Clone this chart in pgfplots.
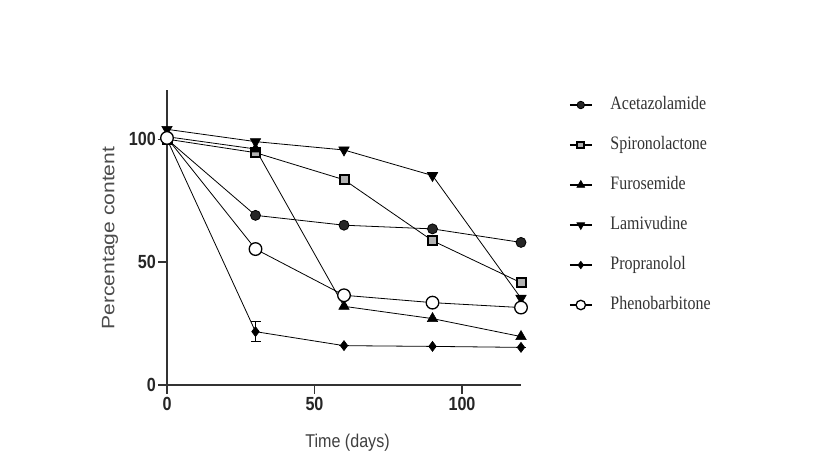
\documentclass[border=0pt]{standalone}
\usepackage{fontspec}
\setmainfont{Liberation Sans}
\newfontfamily\legfont[FakeStretch=0.84]{Liberation Serif}
\newfontfamily\tickfont[FakeStretch=0.85]{Liberation Sans}
\newfontfamily\xlabfont[FakeStretch=0.87]{Liberation Sans}
\newfontfamily\ylabfont[FakeStretch=1.17]{Liberation Sans}
\usepackage{pgfplots}
\pgfplotsset{compat=1.18}
\begin{document}
\begin{tikzpicture}[x=1pt,y=1pt]
\useasboundingbox (0,0) rectangle (825,473);
\fill[white] (0,0) rectangle (825,473);
\begin{axis}[
  at={(167pt,88pt)}, anchor=south west,
  scale only axis, width=354pt, height=295pt,
  xmin=0, xmax=120, ymin=0, ymax=120,
  axis lines=left,
  axis line style={-, line width=1.3pt, black!80},
  xtick={0,50,100}, ytick={0,50,100},
  minor tick num=0,
  tick align=outside, major tick length=9pt,
  tick style={line width=1.3pt, black!80},
  /pgf/number format/assume math mode=true,
  tick label style={font=\tickfont\bfseries\fontsize{19}{20}\selectfont, text=black!85},
  yticklabel style={inner sep=2pt},
  xticklabel style={inner sep=3pt},
  clip=false,
  xlabel={Time (days)},
  ylabel={Percentage content},
  xlabel style={font=\xlabfont\fontsize{18.5}{20}\selectfont, text=black!75, at={(axis description cs:0.51,-0.197)}, anchor=center},
  ylabel style={font=\ylabfont\fontsize{18}{20}\selectfont, text=black!70, at={(axis description cs:-0.161,0.498)}, anchor=center, rotate=0},
  legend cell align=left,
  legend style={draw=none, fill=none, at={(axis description cs:1.1356,0.982)}, anchor=north west,
    inner sep=0pt, row sep=21pt, column sep=17pt,
    font=\legfont\fontsize{19}{22}\selectfont, text=black!80,
    nodes={inner sep=1pt, text height=13pt, text depth=4pt}},
  legend image code/.code={\draw[line width=1.2pt, mark repeat=2,mark phase=2,/tikz/every mark/.append style={scale=0.75}] plot coordinates {(0pt,0pt)(11pt,0pt)(22pt,0pt)};},
]
\addplot[black, line width=0.8pt, mark=*, mark size=5pt, mark options={fill=black!85, line width=0.8pt}]
  coordinates {(0,100)(30,69)(60,65)(90,63.5)(120,58)};
\addlegendentry{Acetazolamide}
\addplot[black, line width=0.8pt, mark=square*, mark size=4.5pt, mark options={fill=black!30, line width=2pt}]
  coordinates {(0,100)(30,94.5)(60,83.5)(90,58.7)(120,41.6)};
\addlegendentry{Spironolactone}
\addplot[black, line width=0.8pt, mark=triangle*, mark size=6pt, mark options={fill=black, line width=0.6pt}]
  coordinates {(0,101)(30,96)(60,32)(90,27)(120,19.7)};
\addlegendentry{Furosemide}
\addplot[black, line width=0.8pt, mark=triangle*, mark size=6pt, mark options={fill=black, rotate=180, line width=0.6pt}]
  coordinates {(0,104)(30,99)(60,95.6)(90,85.2)(120,35.3)};
\addlegendentry{Lamivudine}
\addplot[black, line width=0.8pt, mark=diamond*, mark size=5pt, mark options={fill=black, line width=0.6pt},
  error bars/.cd, y dir=both, y explicit, error bar style={line width=1pt}, error mark options={rotate=90, mark size=5pt, line width=1pt}]
  coordinates {(0,100) +- (0,0) (30,21.7) +- (0,4) (60,16) +- (0,0) (90,15.7) +- (0,0) (120,15.3) +- (0,0)};
\addlegendentry{Propranolol}
\addplot[black, line width=0.8pt, mark=*, mark size=6.3pt, mark options={fill=white, line width=1.3pt}]
  coordinates {(0,100.5)(30,55.3)(60,36.5)(90,33.5)(120,31.5)};
\addlegendentry{Phenobarbitone}
\end{axis}
\end{tikzpicture}
\end{document}
